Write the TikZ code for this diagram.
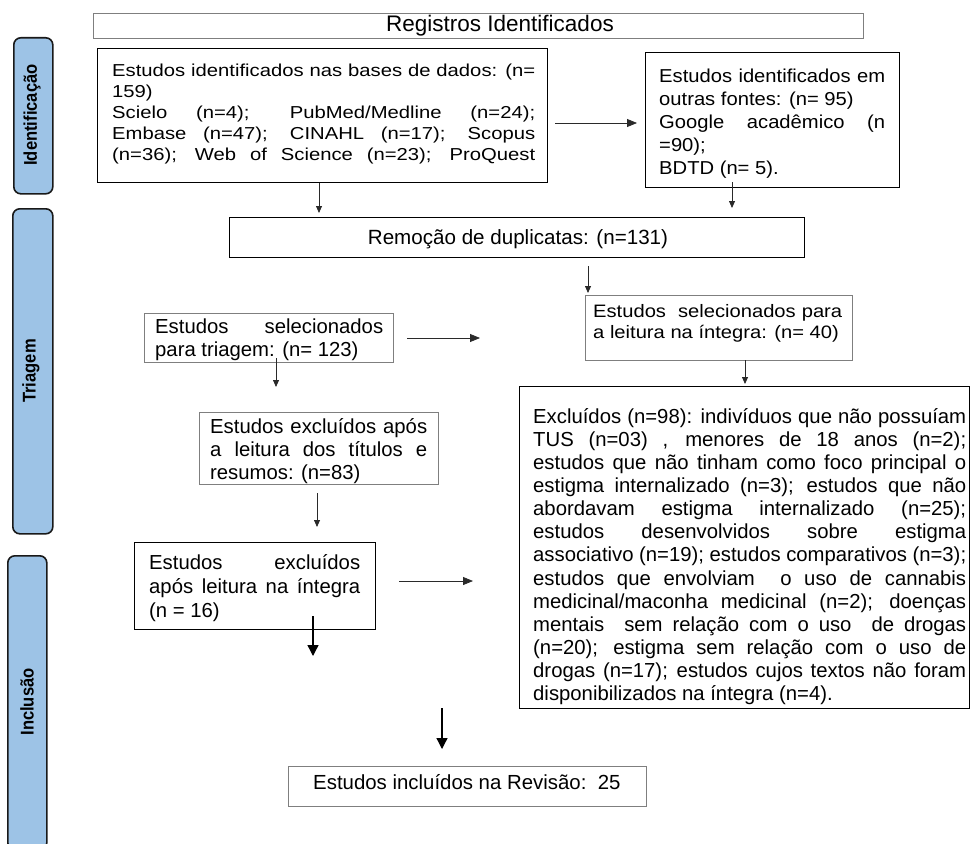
\documentclass[tikz,border=0pt]{standalone}
\usepackage{fontspec}
\setmainfont{Liberation Sans}
\newfontfamily\widefont{Liberation Sans}[FakeStretch=1.17]
\newfontfamily\midfont{Liberation Sans}[FakeStretch=1.12]
\newfontfamily\slightfont{Liberation Sans}[FakeStretch=1.08]
\newfontfamily\labelfont{Liberation Sans}[FakeStretch=0.9]
\usetikzlibrary{arrows.meta}
\definecolor{phaseblue}{HTML}{9DC3E6}
\definecolor{boxgray}{HTML}{7F7F7F}
\definecolor{arrgray}{HTML}{2A2A2A}
\newcommand\JLine[1]{\makebox[\linewidth][s]{#1}}
\tikzset{
  blackbox/.style={draw=black, line width=1.4pt, inner sep=0pt, anchor=north west},
  graybox/.style={draw=boxgray, line width=1.1pt, inner sep=0pt, anchor=north west},
  phasebar/.style={draw=black!90, line width=1.6pt, fill=phaseblue, rounded corners=7pt, inner sep=0pt, anchor=north west},
  phaselabel/.style={rotate=90, inner sep=0pt, font=\labelfont\bfseries\fontsize{18.4}{20}\selectfont},
  txt/.style={anchor=base west, inner sep=0pt},
  arr/.style={draw=arrgray, line width=0.8pt, -{Triangle[length=7pt,width=6pt]}},
  harr/.style={draw=arrgray, line width=0.8pt, -{Triangle[length=10pt,width=8pt]}},
  thickarr/.style={draw=black, line width=1.3pt, -{Triangle[length=11pt,width=11pt]}}
}
\begin{document}
\begin{tikzpicture}[x=1pt,y=-1pt]
\useasboundingbox (0,0) rectangle (971,843);
\clip (0,0) rectangle (971,843);

% phase bars
\node[phasebar, minimum width=39pt, minimum height=156pt] (pid) at (13,37) {};
\node[phaselabel] (pidl) at (32,115) {Identificação};
\node[phasebar, minimum width=40pt, minimum height=325pt] (ptr) at (12,208) {};
\node[phaselabel] (ptrl) at (31,371) {Triagem};
\node[phasebar, minimum width=39pt, minimum height=294pt] (pin) at (7,555) {};
\node[phaselabel] (pinl) at (27,702) {Inclusão};

% Registros Identificados
\node[graybox, minimum width=770pt, minimum height=25pt] (reg) at (93,13) {};
\node[anchor=base, inner sep=0pt, font=\fontsize{22.5}{26}\selectfont] (regt) at (500,32) {Registros Identificados};

% box 1
\node[blackbox, minimum width=450pt, minimum height=134pt] (b1) at (97,48) {};
\node[txt] (b1t) at (112,76) {\parbox[t]{423pt}{\widefont\fontsize{17.3}{21}\selectfont
\JLine{Estudos identificados nas bases de dados: (n=}\\
159)\\
\JLine{Scielo (n=4); PubMed/Medline (n=24);}\\
\JLine{Embase (n=47); CINAHL (n=17); Scopus}\\
\JLine{(n=36); Web of Science (n=23); ProQuest}}};

% box 2
\node[blackbox, minimum width=254pt, minimum height=135pt] (b2) at (645,52) {};
\node[txt] (b2t) at (659,82) {\parbox[t]{226pt}{\slightfont\fontsize{18.7}{23.2}\selectfont
\JLine{Estudos identificados em}\\
outras fontes: (n= 95)\\
\JLine{Google acadêmico (n}\\
=90);\\
BDTD (n= 5).}};

% remocao
\node[blackbox, minimum width=575pt, minimum height=40pt] (rem) at (229,217) {};
\node[anchor=base, inner sep=0pt, font=\fontsize{20.6}{24}\selectfont] (remt) at (518,244) {Remoção de duplicatas: (n=131)};

% triagem box
\node[graybox, minimum width=249pt, minimum height=49pt] (tri) at (144,313) {};
\node[txt] (trit) at (155,333) {\parbox[t]{228pt}{\fontsize{20.3}{23}\selectfont
\JLine{Estudos selecionados}\\
para triagem: (n= 123)}};

% leitura box
\node[graybox, minimum width=267pt, minimum height=65pt] (lei) at (585,295) {};
\node[txt] (leit) at (593,317) {\parbox[t]{249pt}{\midfont\fontsize{18}{21}\selectfont
\JLine{Estudos\ \ selecionados para}\\
a leitura na íntegra: (n= 40)}};

% titulos box
\node[graybox, minimum width=239pt, minimum height=72pt] (tit) at (199,412) {};
\node[txt] (titt) at (210,433) {\parbox[t]{217pt}{\fontsize{20.3}{23}\selectfont
\JLine{Estudos excluídos após}\\
\JLine{a leitura dos títulos e}\\
resumos: (n=83)}};

% big excluidos box
\node[blackbox, minimum width=450pt, minimum height=322pt] (exc) at (519,386) {};
\node[txt] (exct) at (533,423) {\parbox[t]{433pt}{\fontsize{20.3}{23.15}\selectfont
\JLine{Excluídos (n=98): indivíduos que não possuíam}\\
\JLine{TUS (n=03) , menores de 18 anos (n=2);}\\
\JLine{estudos que não tinham como foco principal o}\\
\JLine{estigma internalizado (n=3); estudos que não}\\
\JLine{abordavam estigma internalizado (n=25);}\\
\JLine{estudos desenvolvidos sobre estigma}\\
\JLine{associativo (n=19); estudos comparativos (n=3);}\\
\JLine{estudos que envolviam\ \ o uso de cannabis}\\
\JLine{medicinal/maconha medicinal (n=2); doenças}\\
\JLine{mentais\ \ sem relação com o uso\ \ de drogas}\\
\JLine{(n=20); estigma sem relação com o uso de}\\
\JLine{drogas (n=17); estudos cujos textos não foram}\\
disponibilizados na íntegra (n=4).}};

% excluidos apos leitura integra
\node[blackbox, minimum width=241pt, minimum height=87pt] (ine) at (134,542) {};
\node[txt] (inet) at (149,569) {\parbox[t]{211pt}{\fontsize{20.3}{24}\selectfont
\JLine{Estudos excluídos}\\
\JLine{após leitura na íntegra}\\
(n = 16)}};

% revisao
\node[graybox, minimum width=358pt, minimum height=40pt] (rev) at (288,766) {};
\node[txt, font=\fontsize{20.4}{24}\selectfont] (revt) at (313,789) {Estudos incluídos na Revisão:\ \ 25};

% arrow end points
\coordinate (a1s) at (319,183); \coordinate (a1e) at (319,213);
\coordinate (a2s) at (732,182); \coordinate (a2e) at (732,208);
\coordinate (a3s) at (555,123); \coordinate (a3e) at (637,123);
\coordinate (a4s) at (588,266); \coordinate (a4e) at (588,293);
\coordinate (a5s) at (407,338); \coordinate (a5e) at (480,338);
\coordinate (a6s) at (276,358); \coordinate (a6e) at (276,387);
\coordinate (a7s) at (745,360); \coordinate (a7e) at (745,384);
\coordinate (a8s) at (317,493); \coordinate (a8e) at (317,527);
\coordinate (a9s) at (399,581); \coordinate (a9e) at (473,581);
\coordinate (a10s) at (313,616); \coordinate (a10e) at (313,656);
\coordinate (a11s) at (442,708); \coordinate (a11e) at (442,749);

\draw[arr] (a1s) -- (a1e);
\draw[arr] (a2s) -- (a2e);
\draw[harr] (a3s) -- (a3e);
\draw[arr] (a4s) -- (a4e);
\draw[harr] (a5s) -- (a5e);
\draw[arr] (a6s) -- (a6e);
\draw[arr] (a7s) -- (a7e);
\draw[arr] (a8s) -- (a8e);
\draw[harr] (a9s) -- (a9e);
\draw[thickarr] (a10s) -- (a10e);
\draw[thickarr] (a11s) -- (a11e);
\end{tikzpicture}
\end{document}
